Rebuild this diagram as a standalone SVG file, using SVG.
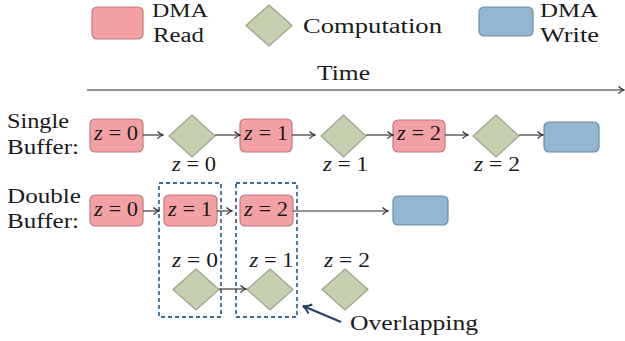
<svg xmlns="http://www.w3.org/2000/svg" width="625" height="341" viewBox="0 0 625 341" font-family="'Liberation Serif', 'DejaVu Serif', serif">
  <defs>
    <marker id="head" markerWidth="10" markerHeight="10" refX="7" refY="5" orient="auto" markerUnits="userSpaceOnUse">
      <path d="M1.5,1.5 Q4,4 7,5 Q4,6 1.5,8.5" fill="none" stroke="#2e2626" stroke-width="1.1"/>
    </marker>
    <marker id="headNavy" markerWidth="14" markerHeight="14" refX="10" refY="7" orient="auto" markerUnits="userSpaceOnUse">
      <path d="M2,2 Q6,6 10,7 Q6,8 2,12" fill="none" stroke="#253f66" stroke-width="2"/>
    </marker>
  </defs>
  <style>
    text { font-family: 'Liberation Serif', 'DejaVu Serif', serif; font-size: 20px; fill: #1a1a1a; }
    .small { font-size: 19px; }
    .read { fill: #f4a1a6; stroke: #c07a7e; stroke-width: 1.2; }
    .write { fill: #93b6d3; stroke: #6d8ca6; stroke-width: 1.2; }
    .comp { fill: #c6cfb0; stroke: #9aa488; stroke-width: 1.2; }
    .wire { fill: none; stroke: #2e2626; stroke-width: 1.1; marker-end: url(#head); }
    .group { fill: none; stroke: #3b6d96; stroke-width: 1.8; stroke-dasharray: 4 3; }
    .mid { text-anchor: middle; }
    .z { font-style: italic; }
  </style>

  <rect width="625" height="341" fill="#ffffff"/>

  <!-- legend -->
  <g id="legend-read">
    <rect class="read" x="92" y="7" width="51" height="32" rx="5"/>
    <text class="small" x="152" y="17" textLength="56" lengthAdjust="spacingAndGlyphs">DMA</text>
    <text x="153" y="42" textLength="51" lengthAdjust="spacingAndGlyphs">Read</text>
  </g>
  <g id="legend-comp">
    <polygon class="comp" points="269,5 292,25.5 269,46 246,25.5"/>
    <text x="303" y="33" textLength="139" lengthAdjust="spacingAndGlyphs">Computation</text>
  </g>
  <g id="legend-write">
    <rect class="write" x="479" y="7" width="54" height="29" rx="5"/>
    <text class="small" x="540" y="17" textLength="58" lengthAdjust="spacingAndGlyphs">DMA</text>
    <text x="540" y="42" textLength="59" lengthAdjust="spacingAndGlyphs">Write</text>
  </g>

  <!-- time axis -->
  <g id="time-axis">
    <text x="317" y="80" textLength="53" lengthAdjust="spacingAndGlyphs">Time</text>
    <line class="wire" x1="87" y1="90" x2="624" y2="90"/>
  </g>

  <!-- row labels -->
  <g id="row-labels">
    <text x="7" y="128" textLength="62" lengthAdjust="spacingAndGlyphs">Single</text>
    <text x="7" y="154" textLength="72" lengthAdjust="spacingAndGlyphs">Buffer:</text>
    <text x="7" y="203" textLength="74" lengthAdjust="spacingAndGlyphs">Double</text>
    <text x="7" y="228" textLength="72" lengthAdjust="spacingAndGlyphs">Buffer:</text>
  </g>

  <!-- overlap groups -->
  <g id="overlap-groups">
    <rect class="group" x="159" y="183" width="62" height="134"/>
    <rect class="group" x="236" y="183" width="61" height="134"/>
  </g>

  <!-- single buffer row -->
  <g id="s-read0">
    <rect class="read" x="90" y="119" width="53" height="33" rx="5"/>
    <text class="mid" x="116" y="140" textLength="44" lengthAdjust="spacingAndGlyphs"><tspan class="z">z</tspan> = 0</text>
  </g>
  <g id="s-comp0">
    <polygon class="comp" points="192,115 215,136 192,157 169,136"/>
    <text class="mid" x="194" y="171" textLength="44" lengthAdjust="spacingAndGlyphs"><tspan class="z">z</tspan> = 0</text>
  </g>
  <g id="s-read1">
    <rect class="read" x="240" y="119" width="52" height="33" rx="5"/>
    <text class="mid" x="266" y="140" textLength="44" lengthAdjust="spacingAndGlyphs"><tspan class="z">z</tspan> = 1</text>
  </g>
  <g id="s-comp1">
    <polygon class="comp" points="343.5,115 366,136 343.5,157 321,136"/>
    <text class="mid" x="345.5" y="171" textLength="45" lengthAdjust="spacingAndGlyphs"><tspan class="z">z</tspan> = 1</text>
  </g>
  <g id="s-read2">
    <rect class="read" x="393" y="120" width="52" height="32" rx="5"/>
    <text class="mid" x="419" y="140" textLength="44" lengthAdjust="spacingAndGlyphs"><tspan class="z">z</tspan> = 2</text>
  </g>
  <g id="s-comp2">
    <polygon class="comp" points="496,115 519,136 496,157 473,136"/>
    <text class="mid" x="497" y="171" textLength="46" lengthAdjust="spacingAndGlyphs"><tspan class="z">z</tspan> = 2</text>
  </g>
  <g id="s-write">
    <rect class="write" x="544" y="122" width="55" height="30" rx="5"/>
  </g>

  <!-- double buffer row -->
  <g id="d-read0">
    <rect class="read" x="90" y="195" width="53" height="31" rx="5"/>
    <text class="mid" x="116" y="216" textLength="44" lengthAdjust="spacingAndGlyphs"><tspan class="z">z</tspan> = 0</text>
  </g>
  <g id="d-read1">
    <rect class="read" x="164" y="195" width="53" height="31" rx="5"/>
    <text class="mid" x="190" y="216" textLength="44" lengthAdjust="spacingAndGlyphs"><tspan class="z">z</tspan> = 1</text>
  </g>
  <g id="d-read2">
    <rect class="read" x="240" y="195" width="53" height="31" rx="5"/>
    <text class="mid" x="266" y="216" textLength="44" lengthAdjust="spacingAndGlyphs"><tspan class="z">z</tspan> = 2</text>
  </g>
  <g id="d-write">
    <rect class="write" x="393" y="196" width="55" height="29" rx="5"/>
  </g>
  <g id="d-comp0">
    <text class="mid" x="195" y="267" textLength="46" lengthAdjust="spacingAndGlyphs"><tspan class="z">z</tspan> = 0</text>
    <polygon class="comp" points="196,269 219,289.5 196,310 173,289.5"/>
  </g>
  <g id="d-comp1">
    <text class="mid" x="271.5" y="267" textLength="44" lengthAdjust="spacingAndGlyphs"><tspan class="z">z</tspan> = 1</text>
    <polygon class="comp" points="270,269 293,289.5 270,310 247,289.5"/>
  </g>
  <g id="d-comp2">
    <text class="mid" x="347" y="267" textLength="46" lengthAdjust="spacingAndGlyphs"><tspan class="z">z</tspan> = 2</text>
    <polygon class="comp" points="345,269 368,289.5 345,310 322,289.5"/>
  </g>

  <g id="overlap-note">
    <text x="350" y="330" textLength="128" lengthAdjust="spacingAndGlyphs">Overlapping</text>
  </g>

  <!-- connectors -->
  <g id="connectors">
    <line class="wire" x1="143" y1="135" x2="163" y2="135"/>
    <line class="wire" x1="215" y1="135" x2="240" y2="135"/>
    <line class="wire" x1="292" y1="135" x2="315" y2="135"/>
    <line class="wire" x1="366" y1="135" x2="393" y2="135"/>
    <line class="wire" x1="445" y1="135" x2="468" y2="135"/>
    <line class="wire" x1="519" y1="135" x2="543" y2="135"/>

    <line class="wire" x1="143" y1="211" x2="159" y2="211"/>
    <line class="wire" x1="217" y1="211" x2="232" y2="211"/>
    <line class="wire" x1="293" y1="211" x2="388" y2="211"/>
    <line class="wire" x1="219" y1="289" x2="246" y2="289"/>

    <line x1="341" y1="322" x2="303" y2="306" stroke="#253f66" stroke-width="2" marker-end="url(#headNavy)"/>
  </g>
</svg>
